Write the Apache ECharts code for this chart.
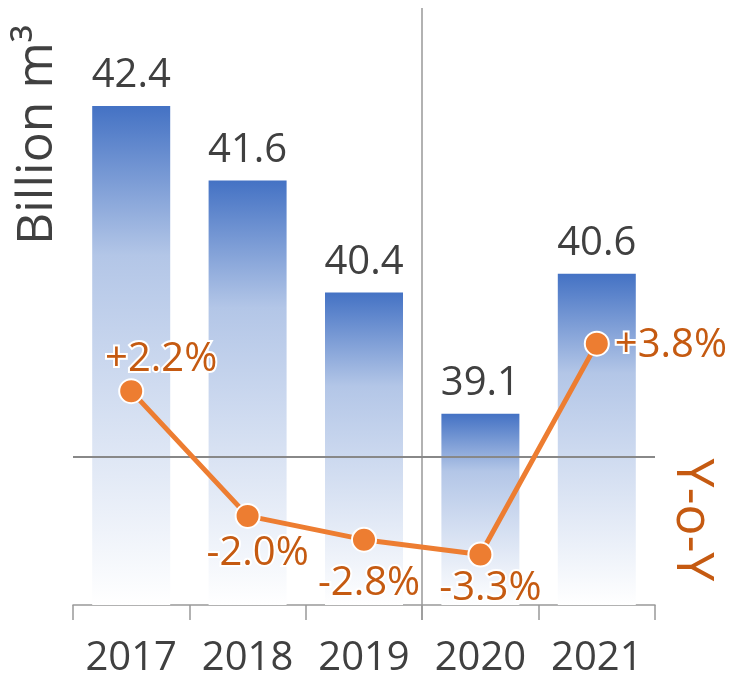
<!DOCTYPE html>
<html>
<head>
<meta charset="utf-8">
<script src="https://cdn.jsdelivr.net/npm/echarts@6/dist/echarts.min.js"></script>
<style>
  html, body { margin: 0; padding: 0; background: #fff; }
  #main { width: 733px; height: 685px; }
</style>
</head>
<body>
<div id="main"></div>
<script>
// 数据
var years = ['2017', '2018', '2019', '2020', '2021'];
var volumes = [42.4, 41.6, 40.4, 39.1, 40.6];
var yoyValues = [2.2, -2.0, -2.8, -3.3, 3.8];
var yoyLabels = ['+2.2%', '-2.0%', '-2.8%', '-3.3%', '+3.8%'];

var fontFamily = '"Open Sans", "Noto Sans", sans-serif';
// 标签位置 [position, offsetX, offsetY]
var yoyLabelPos = [
    ['top', 30, 6],
    ['bottom', 10, 0],
    ['bottom', 5, 6],
    ['bottom', 10, -4],
    ['right', 0, 2]
];

var chart = echarts.init(document.getElementById('main'));

var option = {
    animation: false,
    grid: {
        left: 73,
        right: 78,
        top: 8,
        bottom: 80
    },
    xAxis: {
        type: 'category',
        data: years,
        boundaryGap: true,
        axisLine: { show: true, onZero: false, lineStyle: { color: '#999', width: 1.5 } },
        axisTick: { show: true, interval: 0, alignWithLabel: false, length: 15, lineStyle: { color: '#999', width: 1.5 } },
        axisLabel: {
            interval: 0,
            fontSize: 40,
            color: '#404040',
            fontFamily: fontFamily,
            margin: 34
        }
    },
    yAxis: [{
        type: 'value',
        min: 37.05,
        max: 43.45,
        show: false,
        splitLine: { show: false }
    }, {
        type: 'value',
        min: -5,
        max: 15.1,
        show: false,
        splitLine: { show: false }
    }],
    series: [{
        name: 'Billion m3',
        type: 'bar',
        data: volumes,
        barWidth: 78,
        itemStyle: {
            color: new echarts.graphic.LinearGradient(0, 0, 0, 1, [
                { offset: 0, color: '#4472C4' },
                { offset: 0.3, color: '#B3C6E7' },
                { offset: 1, color: '#FFFFFF' }
            ])
        },
        label: {
            show: true,
            position: 'top',
            distance: 10,
            fontSize: 40,
            color: '#404040',
            fontFamily: fontFamily
        }
    }, {
        name: 'Y-o-Y',
        type: 'line',
        yAxisIndex: 1,
        z: 5,
        data: yoyValues.map(function (v, i) {
            var p = yoyLabelPos[i];
            return {
                value: v,
                label: {
                    position: p[0],
                    offset: [p[1], p[2]],
                    formatter: yoyLabels[i]
                }
            };
        }),
        symbol: 'circle',
        symbolSize: 24,
        lineStyle: { color: '#ED7D31', width: 5 },
        itemStyle: { color: '#ED7D31', borderColor: '#fff', borderWidth: 2 },
        label: {
            show: true,
            fontSize: 40,
            color: '#C55A11',
            fontFamily: fontFamily,
            textBorderColor: '#fff',
            textBorderWidth: 4
        },
        markLine: {
            silent: true,
            symbol: ['none', 'none'],
            label: { show: false },
            lineStyle: { color: '#888', width: 2, type: 'solid' },
            data: [{ yAxis: 0 }]
        }
    }]
};

chart.setOption(option);

// 2019/2020 分隔线
var x1 = chart.convertToPixel({ xAxisIndex: 0 }, '2019');
var x2 = chart.convertToPixel({ xAxisIndex: 0 }, '2020');
var sepX = Math.round((x1 + x2) / 2);

chart.setOption({
    graphic: [{
        type: 'line',
        shape: { x1: sepX, y1: 8, x2: sepX, y2: 620 },
        style: { stroke: '#999', lineWidth: 1.5 },
        z: 1
    }, {
        type: 'text',
        x: 38,
        y: 135,
        rotation: Math.PI / 2,
        style: {
            text: 'Billion m³',
            fontSize: 50,
            fill: '#404040',
            fontFamily: fontFamily,
            align: 'center',
            verticalAlign: 'middle'
        }
    }, {
        type: 'text',
        x: 692,
        y: 520,
        rotation: -Math.PI / 2,
        style: {
            text: 'Y-o-Y',
            fontSize: 52,
            fill: '#C55A11',
            fontFamily: fontFamily,
            align: 'center',
            verticalAlign: 'middle'
        }
    }]
});
</script>
</body>
</html>
